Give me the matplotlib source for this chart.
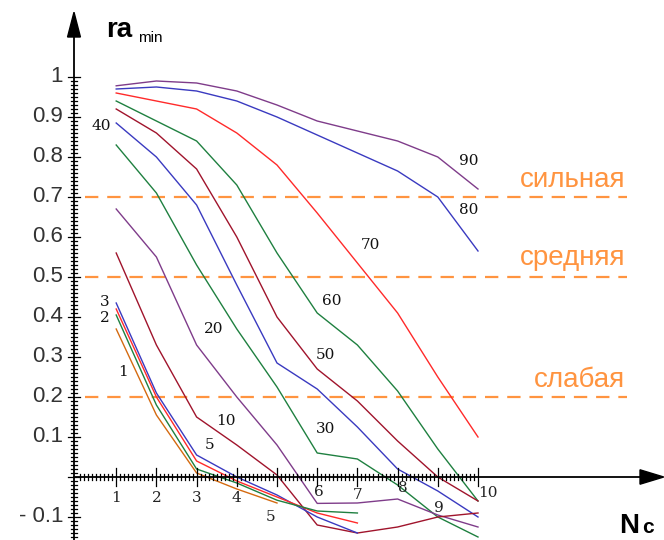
import numpy as np
import matplotlib.pyplot as plt
from matplotlib.patches import Polygon

# number of cycles N_c
x_full = [1, 2, 3, 4, 5, 6, 7, 8, 9, 10]
x_to7 = [1, 2, 3, 4, 5, 6, 7]
x_to5 = [1, 2, 3, 4, 5]

# ra_min curves, labelled by parameter value
r90 = [0.978, 0.99, 0.985, 0.965, 0.93, 0.89, 0.865, 0.84, 0.80, 0.72]
r80 = [0.97, 0.975, 0.965, 0.94, 0.90, 0.855, 0.81, 0.765, 0.70, 0.565]
r70 = [0.96, 0.94, 0.92, 0.86, 0.78, 0.66, 0.535, 0.41, 0.25, 0.10]
r60 = [0.94, 0.89, 0.84, 0.73, 0.56, 0.41, 0.33, 0.215, 0.07, -0.06]
r50 = [0.92, 0.86, 0.77, 0.60, 0.40, 0.27, 0.19, 0.09, 0.0, -0.06]
r40 = [0.885, 0.80, 0.68, 0.48, 0.285, 0.22, 0.125, 0.02, -0.035, -0.10]
r30 = [0.83, 0.71, 0.53, 0.37, 0.225, 0.06, 0.045, -0.02, -0.10, -0.15]
r20 = [0.67, 0.55, 0.33, 0.20, 0.08, -0.066, -0.065, -0.055, -0.095, -0.125]
r10 = [0.56, 0.33, 0.15, 0.08, 0.005, -0.12, -0.14, -0.125, -0.10, -0.09]
r5 = [0.435, 0.21, 0.055, 0.0, -0.045, -0.10, -0.14]
r3 = [0.42, 0.20, 0.04, -0.01, -0.05, -0.09, -0.115]
r2 = [0.405, 0.18, 0.02, -0.015, -0.058, -0.085, -0.09]
r1 = [0.37, 0.155, 0.01, -0.03, -0.065]

# correlation strength levels
levels = [0.7, 0.5, 0.2]
level_names = ['сильная', 'средняя', 'слабая']

ytick_vals = [1, 0.9, 0.8, 0.7, 0.6, 0.5, 0.4, 0.3, 0.2, 0.1, -0.1]
ytick_text = ['1', '0.9', '0.8', '0.7', '0.6', '0.5', '0.4', '0.3', '0.2', '0.1', '- 0.1']
xtick_vals = [1, 2, 3, 4, 5, 6, 7, 8, 9, 10]

purple = '#7f3c8a'
blue = '#3a3ac0'
red = '#ff2a2a'
green = '#1f8040'
darkred = '#a0142c'
orange = '#d46a10'
dash_col = '#ff9440'

fig = plt.figure(figsize=(6.64, 5.4), dpi=100)
ax = fig.add_axes([0, 0, 1, 1])
ax.set_xlim(-76 / 40.2, (664 - 76) / 40.2)
ax.set_ylim(-(540 - 477) / 400, 477 / 400)
ax.axis('off')

# curves
curves = [
    (x_full, r90, purple), (x_full, r80, blue), (x_full, r70, red),
    (x_full, r60, green), (x_full, r50, darkred), (x_full, r40, blue),
    (x_full, r30, green), (x_full, r20, purple), (x_full, r10, darkred),
    (x_to7, r5, blue), (x_to7, r3, red), (x_to7, r2, green), (x_to5, r1, orange),
]
for xs, ys, c in curves:
    ax.plot(xs, ys, color=c, lw=1.0, zorder=3)

# level lines and names
name_dy = [0.024, 0.03, 0.025]
for lv, name, dy in zip(levels, level_names, name_dy):
    ax.plot([0.22, 13.7], [lv, lv], color=dash_col, lw=1.6,
            dashes=(6, 4), zorder=2)
    ax.text(13.66, lv + dy, name, color=dash_col, fontsize=20,
            ha='right', va='baseline', family='Liberation Sans')

# axes with arrows
ax0 = -0.05
ax.plot([ax0, ax0], [-0.16, 1.11], color='k', lw=1.3, zorder=4)
ax.plot([ax0, 14.1], [0, 0], color='k', lw=1.3, zorder=4)
ax.add_patch(Polygon([[ax0, 1.162], [ax0 - 0.16, 1.10], [ax0 + 0.16, 1.10]],
                     closed=True, color='k', zorder=4))
ax.add_patch(Polygon([[14.62, 0], [14.03, 0.018], [14.03, -0.018]],
                     closed=True, color='k', zorder=4))

# minor/major ticks
for v in np.arange(-0.15, 1.001, 0.01):
    major = abs(v * 10 - round(v * 10)) < 1e-6
    h = 0.15 if major else 0.075
    ax.plot([ax0 - h, ax0 + h], [v, v], color='k', lw=0.9, zorder=4)
for v in np.arange(0.1, 10.001, 0.1):
    major = abs(v - round(v)) < 1e-6
    h = 0.022 if major else 0.008
    ax.plot([v, v], [-h, h], color='k', lw=0.9, zorder=4)

# y tick labels
for v, t in zip(ytick_vals, ytick_text):
    ax.text(-0.32, v, t, ha='right', va='center', fontsize=16,
            family='Liberation Sans', color='#333333')

# x tick labels (some shifted to avoid curves)
xlab_y = [-0.053, -0.053, -0.052, -0.052, -0.10, -0.038, -0.045, -0.027, -0.078, -0.04]
xlab_dx = [0, 0, 0, 0, -0.15, 0.05, 0, 0.12, 0.03, 0.25]
for v, yy, dx in zip(xtick_vals, xlab_y, xlab_dx):
    ax.text(v + dx, yy, str(v), ha='center', va='center', fontsize=11,
            family='DejaVu Serif', color='#222222')

# curve labels
curve_labels = [
    ('40', 0.62, 0.878), ('3', 0.72, 0.438), ('2', 0.72, 0.398),
    ('1', 1.18, 0.262), ('20', 3.42, 0.37), ('10', 3.72, 0.14),
    ('5', 3.33, 0.08), ('30', 6.2, 0.12), ('50', 6.2, 0.305),
    ('60', 6.37, 0.44), ('70', 7.32, 0.58), ('80', 9.78, 0.667),
    ('90', 9.78, 0.79),
]
for t, lx, ly in curve_labels:
    ax.text(lx, ly, t, ha='center', va='center', fontsize=11,
            family='DejaVu Serif', color='#111111')

# axis names
ax.text(0.75, 1.1, 'ra', fontsize=20, fontweight='bold', va='baseline',
        family='Liberation Sans')
ax.text(1.55, 1.088, 'min', fontsize=11, va='baseline', family='Liberation Sans')
ax.text(13.5, -0.14, 'N', fontsize=20, fontweight='bold', va='baseline',
        family='Liberation Sans')
ax.text(14.08, -0.14, 'c', fontsize=15, fontweight='bold', va='baseline',
        family='Liberation Sans')

plt.savefig('out.png', dpi=100)
